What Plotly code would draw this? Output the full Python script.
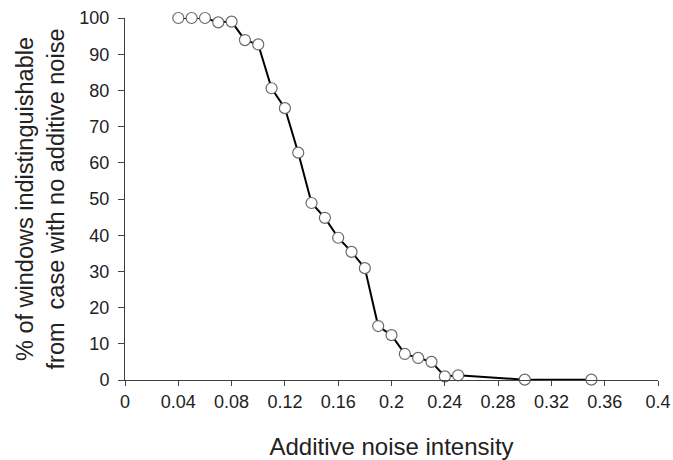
import plotly.graph_objects as go

noise = [0.04, 0.05, 0.06, 0.07, 0.08, 0.09, 0.10, 0.11, 0.12, 0.13, 0.14, 0.15,
         0.16, 0.17, 0.18, 0.19, 0.20, 0.21, 0.22, 0.23, 0.24, 0.25, 0.30, 0.35]
pct = [100, 100, 100, 98.8, 99, 93.9, 92.7, 80.6, 75.1, 62.8, 48.9, 44.8,
       39.3, 35.4, 30.9, 14.9, 12.4, 7.2, 6.1, 5.0, 1.0, 1.3, 0.1, 0.1]

x_ticks = [0, 0.04, 0.08, 0.12, 0.16, 0.2, 0.24, 0.28, 0.32, 0.36, 0.4]
x_ticklabels = ["0", "0.04", "0.08", "0.12", "0.16", "0.2", "0.24", "0.28", "0.32", "0.36", "0.4"]
y_ticks = [0, 10, 20, 30, 40, 50, 60, 70, 80, 90, 100]

fig = go.Figure()
fig.add_trace(go.Scatter(
    x=noise, y=pct, mode="lines+markers",
    line=dict(color="black", width=2),
    marker=dict(symbol="circle", size=11, color="white",
                line=dict(color="#6a6a6a", width=1.2)),
    cliponaxis=False, showlegend=False,
))

font = "Liberation Sans, Arial, sans-serif"
fig.update_layout(
    width=673, height=460,
    margin=dict(l=125, r=15, t=18, b=80, autoexpand=False),
    plot_bgcolor="white", paper_bgcolor="white",
    font=dict(family=font, color="#222222"),
    xaxis=dict(
        range=[0, 0.4], tickvals=x_ticks, ticktext=x_ticklabels, automargin=False,
        showgrid=False, zeroline=False, showline=True, linecolor="#404040", linewidth=1,
        ticks="outside", ticklen=5, tickcolor="#404040",
        tickfont=dict(size=18, family=font),
        title=dict(text="Additive noise intensity", font=dict(size=24, family=font), standoff=28),
    ),
    yaxis=dict(
        range=[0, 100], tickvals=y_ticks, automargin=False,
        showgrid=False, zeroline=False, showline=True, linecolor="#404040", linewidth=1,
        ticks="outside", ticklen=6, tickcolor="#404040", ticklabelstandoff=5,
        tickfont=dict(size=18, family=font),
        title=dict(text="% of windows indistinguishable<br>from  case with no additive noise",
                   font=dict(size=23.5, family=font), standoff=8),
    ),
)

fig.write_html("out.html")
